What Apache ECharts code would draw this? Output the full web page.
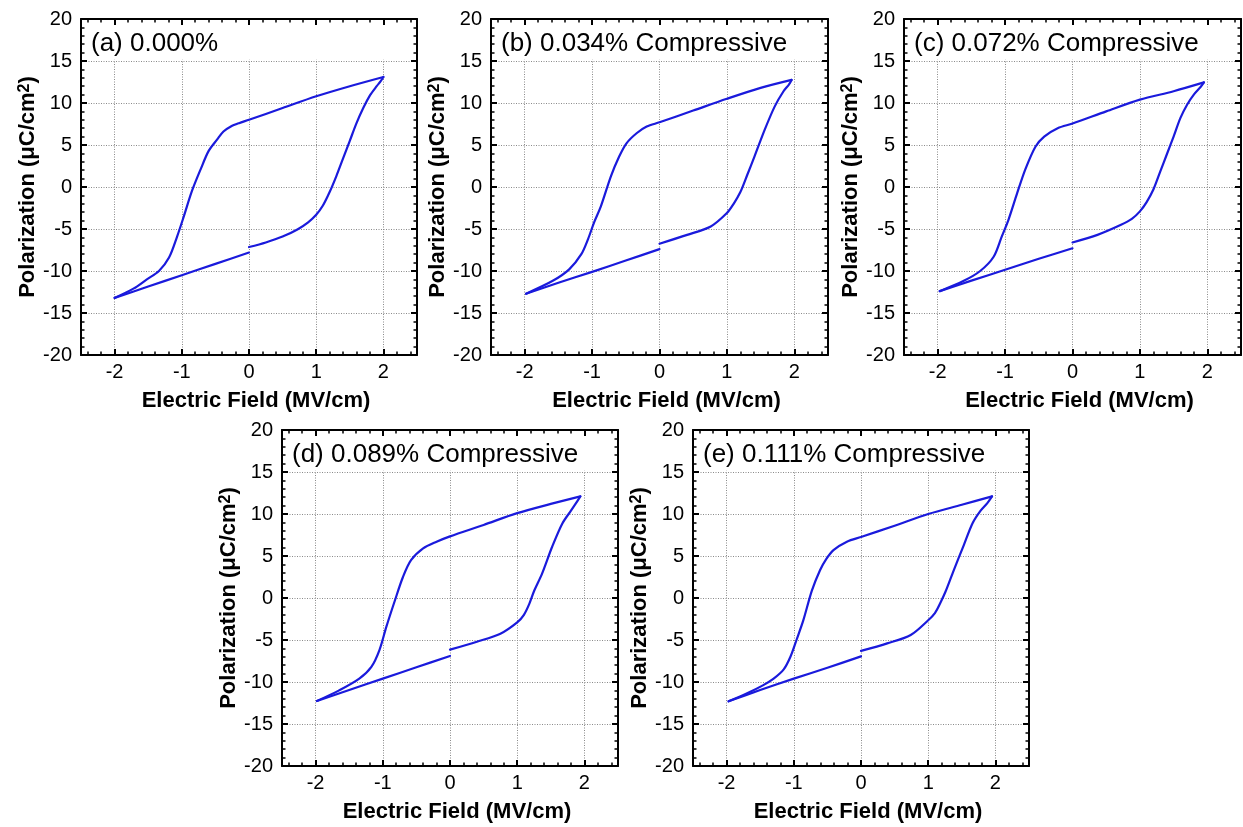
<!DOCTYPE html>
<html>
<head>
<meta charset="utf-8">
<script src="https://cdn.jsdelivr.net/npm/echarts@6/dist/echarts.min.js"></script>
<style>
html,body{margin:0;padding:0;background:#fff;}
#chart{width:1243px;height:827px;}
</style>
</head>
<body>
<div id="chart"></div>
<script>
// ---- data (E in MV/cm, P in uC/cm^2) ----
const panelLabels = ['(a) 0.000%', '(b) 0.034% Compressive', '(c) 0.072% Compressive', '(d) 0.089% Compressive', '(e) 0.111% Compressive'];
const xTitle = 'Electric Field (MV/cm)';
const xMin = -2.5, xMax = 2.5;
const yMin = -20, yMax = 20, yStep = 5;

// each loop: rise (0 -> +Emax), fall (+Emax -> -Emax), back (-Emax -> 0)
const riseA = [[0,-7.15],[0.25,-6.6],[0.5,-5.9],[0.72,-5.05],[0.88,-4.2],[1.0,-3.3],[1.1,-2.2],[1.2,-0.6],[1.3,1.3],[1.4,3.4],[1.5,5.5],[1.6,7.6],[1.7,9.4],[1.8,10.9],[1.9,12.0],[1.96,12.6],[2.0,13.1]];
const fallA = [[2.0,13.1],[1.5,12.0],[1.0,10.8],[0.5,9.4],[0,8.0],[-0.15,7.6],[-0.27,7.2],[-0.38,6.6],[-0.47,5.7],[-0.6,4.3],[-0.72,2.1],[-0.85,-0.5],[-0.97,-3.5],[-1.07,-5.9],[-1.19,-8.4],[-1.34,-10.0],[-1.52,-11.0],[-1.72,-12.1],[-2.0,-13.2]];
const backA = [[-2.0,-13.2],[-1.5,-11.85],[-1.0,-10.5],[-0.5,-9.15],[0,-7.8]];

const riseB = [[0,-6.75],[0.41,-5.7],[0.76,-4.7],[1.0,-3.1],[1.1,-2.0],[1.2,-0.6],[1.3,1.4],[1.41,3.65],[1.56,6.8],[1.71,9.6],[1.84,11.4],[1.92,12.2],[1.96,12.75]];
const fallB = [[1.96,12.75],[1.5,11.8],[1.0,10.5],[0.5,9.1],[0,7.7],[-0.19,7.2],[-0.34,6.4],[-0.49,5.2],[-0.6,3.6],[-0.72,1.3],[-0.87,-2.3],[-0.97,-4.2],[-1.06,-6.2],[-1.16,-8.0],[-1.34,-9.8],[-1.59,-11.2],[-1.98,-12.7]];
const backB = [[-1.98,-12.7],[-1.5,-11.4],[-1.0,-10.1],[-0.5,-8.75],[0,-7.4]];

const riseC = [[0,-6.6],[0.37,-5.7],[0.72,-4.5],[0.88,-3.8],[1.0,-2.9],[1.1,-1.8],[1.2,-0.3],[1.3,1.8],[1.4,3.9],[1.5,6.0],[1.6,8.2],[1.7,9.8],[1.8,11.0],[1.9,11.9],[1.95,12.45]];
const fallC = [[1.95,12.45],[1.5,11.4],[1.0,10.4],[0.5,9.0],[0,7.55],[-0.22,7.0],[-0.42,6.0],[-0.55,4.8],[-0.7,2.1],[-0.82,-0.7],[-0.95,-3.9],[-1.05,-5.9],[-1.17,-8.3],[-1.37,-10.0],[-1.62,-11.2],[-1.97,-12.4]];
const backC = [[-1.97,-12.4],[-1.5,-11.15],[-1.0,-9.85],[-0.5,-8.55],[0,-7.3]];

const riseD = [[0,-6.15],[0.4,-5.2],[0.75,-4.25],[1.0,-2.9],[1.1,-2.0],[1.18,-0.7],[1.25,0.8],[1.37,2.9],[1.52,6.1],[1.67,8.85],[1.8,10.4],[1.9,11.6],[1.94,12.1]];
const fallD = [[1.94,12.1],[1.5,11.2],[1.0,10.1],[0.5,8.7],[0,7.34],[-0.2,6.7],[-0.4,5.9],[-0.58,4.5],[-0.7,2.5],[-0.82,-0.3],[-0.95,-3.5],[-1.05,-6.2],[-1.17,-8.2],[-1.35,-9.6],[-1.65,-11.0],[-1.98,-12.26]];
const backD = [[-1.98,-12.26],[-1.5,-10.95],[-1.0,-9.6],[-0.5,-8.25],[0,-6.9]];

const riseE = [[0,-6.3],[0.39,-5.4],[0.74,-4.4],[1.0,-2.65],[1.1,-1.8],[1.18,-0.6],[1.26,0.8],[1.38,3.3],[1.53,6.3],[1.66,8.9],[1.78,10.4],[1.88,11.3],[1.95,12.1]];
const fallE = [[1.95,12.1],[1.5,11.1],[1.0,10.0],[0.5,8.6],[0,7.26],[-0.21,6.7],[-0.41,5.7],[-0.52,4.6],[-0.61,3.3],[-0.73,0.9],[-0.86,-2.7],[-0.96,-5.0],[-1.05,-7.0],[-1.15,-8.5],[-1.3,-9.6],[-1.46,-10.4],[-1.71,-11.4],[-1.97,-12.3]];
const backE = [[-1.97,-12.3],[-1.5,-10.95],[-1.0,-9.6],[-0.5,-8.3],[0,-6.95]];

const loops = [
  [riseA, fallA, backA],
  [riseB, fallB, backB],
  [riseC, fallC, backC],
  [riseD, fallD, backD],
  [riseE, fallE, backE]
];

// ---- layout ----
const boxes = [
  {left: 81,  top: 19,  width: 336, height: 336},
  {left: 491, top: 19,  width: 337, height: 336},
  {left: 904, top: 19,  width: 337, height: 336},
  {left: 282, top: 430, width: 336, height: 336},
  {left: 693, top: 430, width: 336, height: 336}
];
const FONT = 'Liberation Sans, Arial, Helvetica, sans-serif';
const LINE = '#1a1adc';

const grid = [], xAxis = [], yAxis = [], series = [], title = [];
boxes.forEach((b, i) => {
  grid.push({left: b.left, top: b.top, width: b.width, height: b.height, containLabel: false});
  const tick = {show: true, inside: true, length: 6, lineStyle: {color: '#000', width: 2}};
  const minor = (n) => ({show: true, splitNumber: n, length: 3.5, lineStyle: {color: '#000', width: 1.5}});
  const aLine = {show: true, onZero: false, lineStyle: {color: '#000', width: 2}};
  const split = {show: true, lineStyle: {color: '#8a8a8a', width: 1, type: [1, 1.5]}};
  xAxis.push({
    gridIndex: i, type: 'value', position: 'bottom', min: xMin, max: xMax, splitNumber: 5,
    axisLine: aLine, axisTick: tick, minorTick: minor(5), splitLine: split,
    axisLabel: {show: true, fontSize: 20, color: '#000', fontFamily: FONT, margin: 7, showMinLabel: false, showMaxLabel: false},
    name: xTitle, nameLocation: 'middle', nameGap: 35,
    nameTextStyle: {fontSize: 22, fontWeight: 'bold', color: '#000', fontFamily: FONT, padding: [0, 0, 0, 14]}
  });
  xAxis.push({
    gridIndex: i, type: 'value', position: 'top', min: xMin, max: xMax, splitNumber: 5,
    axisLine: aLine, axisTick: tick, minorTick: minor(5), splitLine: {show: false},
    axisLabel: {show: false}
  });
  yAxis.push({
    gridIndex: i, type: 'value', position: 'left', min: yMin, max: yMax, interval: yStep,
    axisLine: aLine, axisTick: tick, minorTick: minor(5), splitLine: split,
    axisLabel: {show: true, fontSize: 20, color: '#000', fontFamily: FONT, margin: 9},
    name: '{a|Polarization (μC/cm}{s|2}{a|)}', nameLocation: 'middle', nameGap: 42,
    nameTextStyle: {
      fontSize: 22, fontWeight: 'bold', color: '#000', fontFamily: FONT,
      rich: {
        a: {fontSize: 22, fontWeight: 'bold', color: '#000', fontFamily: FONT},
        s: {fontSize: 16, fontWeight: 'bold', color: '#000', fontFamily: FONT, verticalAlign: 'top'}
      }
    }
  });
  yAxis.push({
    gridIndex: i, type: 'value', position: 'right', min: yMin, max: yMax, interval: yStep,
    axisLine: aLine, axisTick: tick, minorTick: minor(5), splitLine: {show: false},
    axisLabel: {show: false}
  });
  loops[i].forEach((seg, k) => {
    const s = {
      type: 'line', xAxisIndex: 2 * i, yAxisIndex: 2 * i, data: seg,
      showSymbol: false, symbol: 'none', smooth: 0.3,
      lineStyle: {color: LINE, width: 2.2, cap: 'round', join: 'round'}, z: 3
    };
    if (k === 0) {
      s.markArea = {
        silent: true, itemStyle: {color: '#fff', opacity: 1},
        data: [[{xAxis: -2.4, yAxis: 15.15}, {xAxis: 2.4, yAxis: 19.3}]]
      };
    }
    series.push(s);
  });
  title.push({
    text: panelLabels[i], left: b.left + 10, top: b.top + 12, padding: 0,
    textStyle: {fontSize: 26, fontWeight: 'normal', color: '#000', fontFamily: FONT}
  });
});

const chart = echarts.init(document.getElementById('chart'), null, {renderer: 'canvas'});
chart.setOption({
  animation: false,
  backgroundColor: '#fff',
  title, grid, xAxis, yAxis, series
});
</script>
</body>
</html>
